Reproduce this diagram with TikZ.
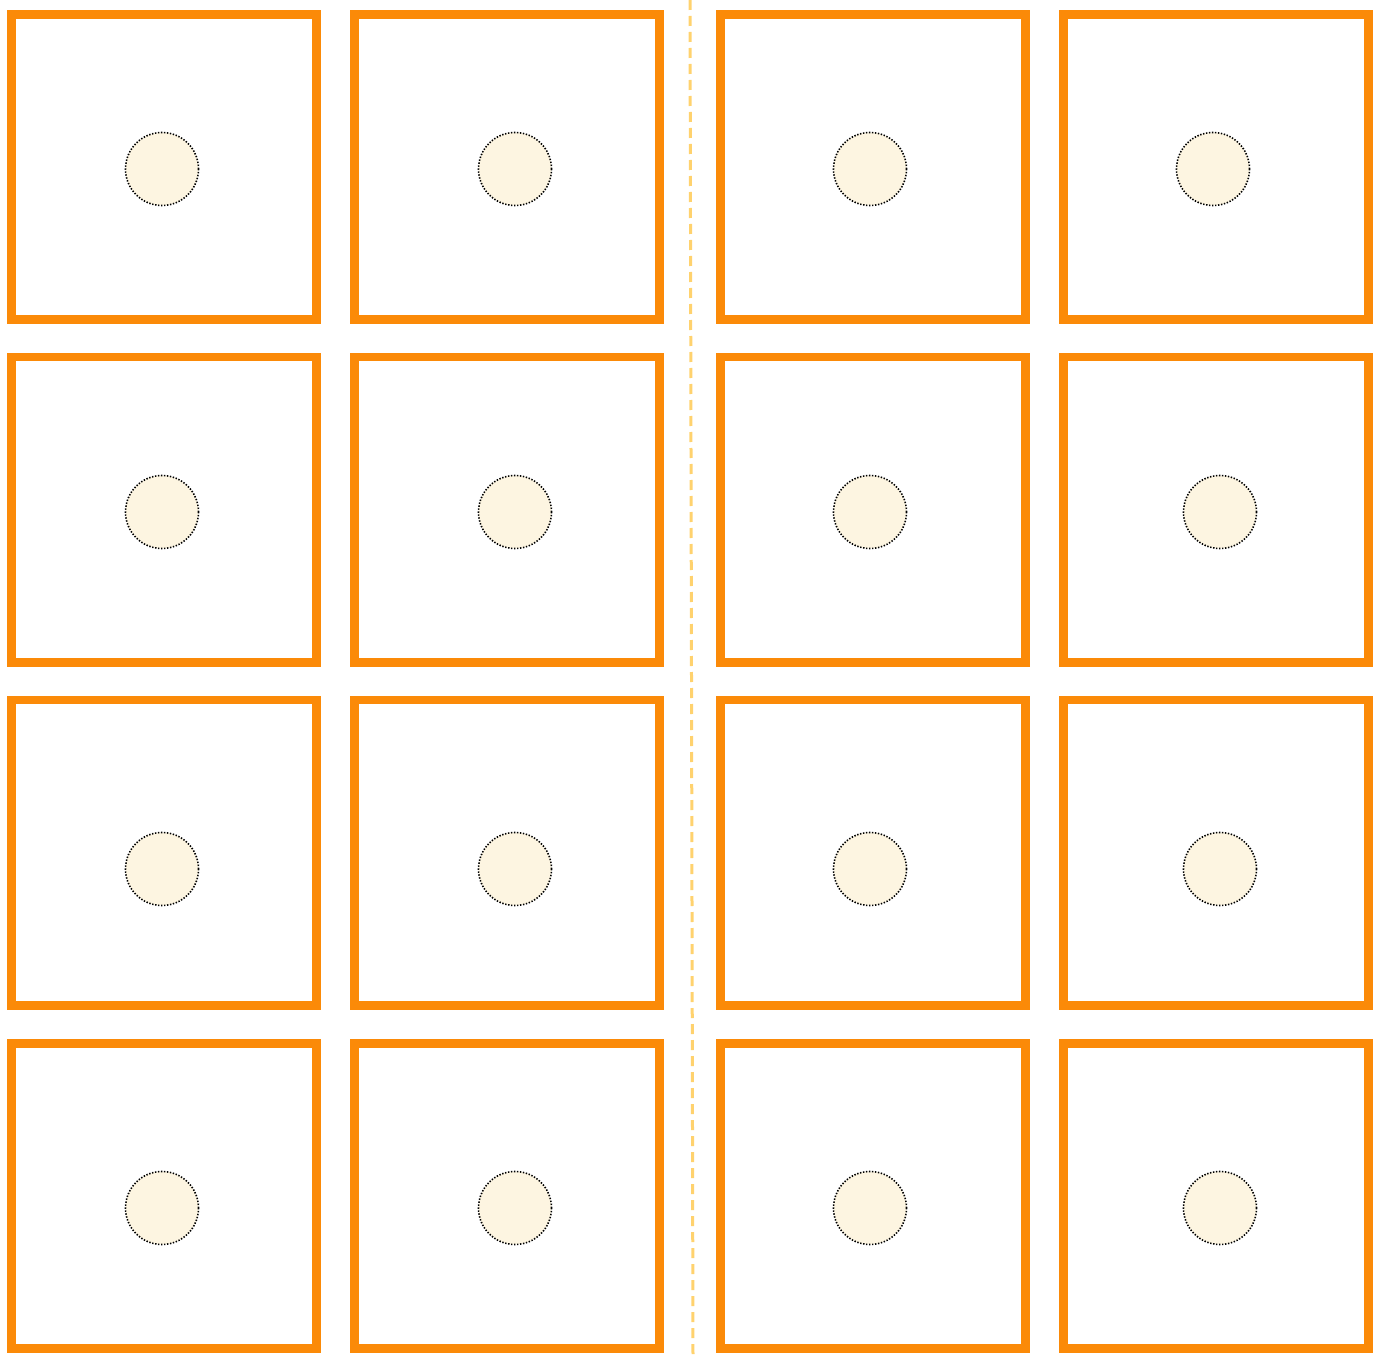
\documentclass[tikz,border=0pt]{standalone}
\definecolor{boxorange}{RGB}{251,138,8}
\definecolor{dotfill}{RGB}{253,245,225}
\definecolor{divider}{RGB}{255,210,110}
\begin{document}
\begin{tikzpicture}[x=0.5pt,y=-0.5pt,
  cell/.style={draw=boxorange, line width=4.3pt, rectangle, inner sep=0pt, outer sep=0pt,
    minimum width=152.7pt, minimum height=152.7pt},
  spot/.style={draw=black, fill=dotfill, circle, inner sep=0pt, outer sep=0pt,
    minimum size=36.5pt, line width=0.8pt, dash pattern=on 0.7pt off 0.8pt},
  divline/.style={draw=divider, line width=1.5pt, dash pattern=on 5pt off 3pt}]
\useasboundingbox (0,0) rectangle (1383,1359);
% boxes
\node[cell] (b11) at (164,167) {};
\node[cell] (b12) at (507,167) {};
\node[cell] (b13) at (873,167) {};
\node[cell] (b14) at (1216,167) {};
\node[cell] (b21) at (164,509.5) {};
\node[cell] (b22) at (507,509.5) {};
\node[cell] (b23) at (873,509.5) {};
\node[cell] (b24) at (1216,509.5) {};
\node[cell] (b31) at (164,852.5) {};
\node[cell] (b32) at (507,852.5) {};
\node[cell] (b33) at (873,852.5) {};
\node[cell] (b34) at (1216,852.5) {};
\node[cell] (b41) at (164,1196) {};
\node[cell] (b42) at (507,1196) {};
\node[cell] (b43) at (873,1196) {};
\node[cell] (b44) at (1216,1196) {};
% spots
\node[spot] (c11) at (162,169) {};
\node[spot] (c12) at (515,169) {};
\node[spot] (c13) at (870,169) {};
\node[spot] (c14) at (1213,169) {};
\node[spot] (c21) at (162,512) {};
\node[spot] (c22) at (515,512) {};
\node[spot] (c23) at (870,512) {};
\node[spot] (c24) at (1220,512) {};
\node[spot] (c31) at (162,869) {};
\node[spot] (c32) at (515,869) {};
\node[spot] (c33) at (870,869) {};
\node[spot] (c34) at (1220,869) {};
\node[spot] (c41) at (162,1208) {};
\node[spot] (c42) at (515,1208) {};
\node[spot] (c43) at (870,1208) {};
\node[spot] (c44) at (1220,1208) {};
% divider
\coordinate (dtop) at (690,0);
\coordinate (dbot) at (693,1355);
\draw[divline] (dtop) -- (dbot);
\end{tikzpicture}
\end{document}
